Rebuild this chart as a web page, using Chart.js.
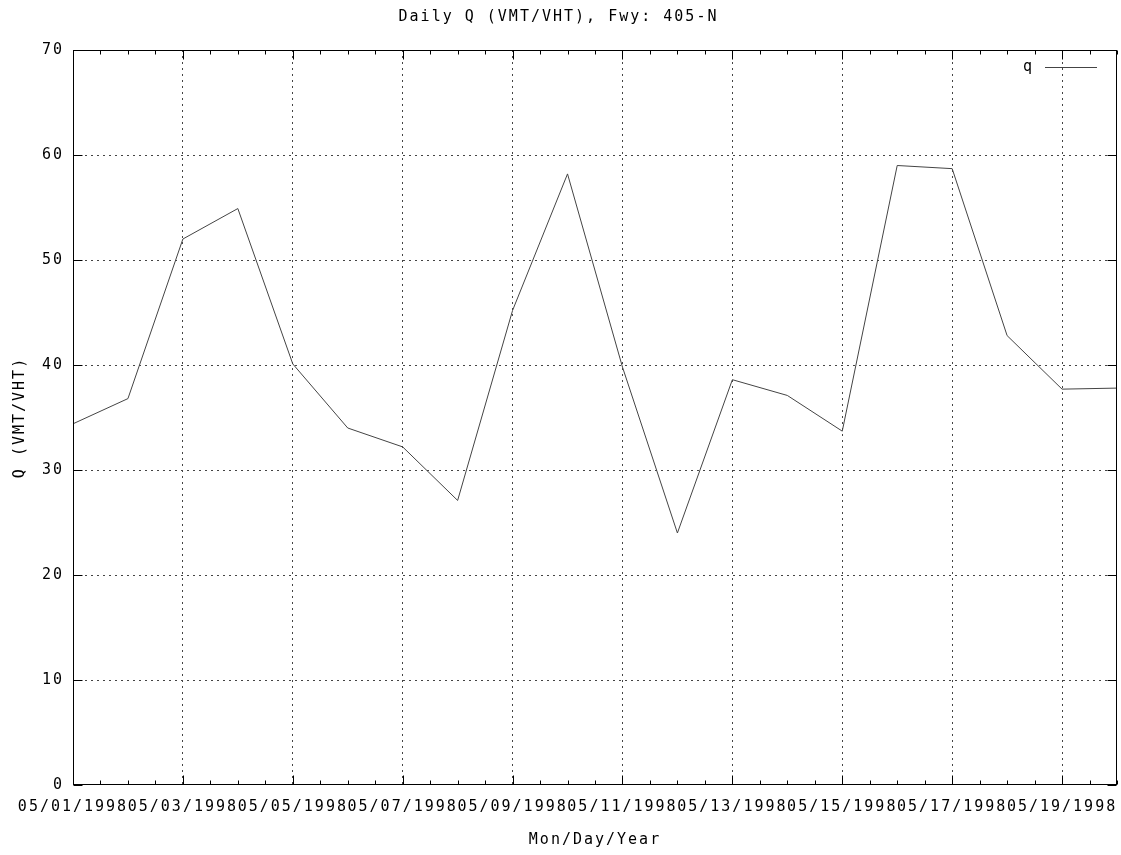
<!DOCTYPE html>
<html>
<head>
<meta charset="utf-8">
<script src="https://cdn.jsdelivr.net/npm/chart.js@4.4.1/dist/chart.umd.min.js"></script>
<style>
    html, body { margin: 0; padding: 0; background: #fff; }
    #wrap { width: 1121px; height: 855px; }
</style>
</head>
<body>
<div id="wrap"><canvas id="qChart"></canvas></div>
<script>
const dayLabels = [
    '05/01/1998', '05/02/1998', '05/03/1998', '05/04/1998', '05/05/1998',
    '05/06/1998', '05/07/1998', '05/08/1998', '05/09/1998', '05/10/1998',
    '05/11/1998', '05/12/1998', '05/13/1998', '05/14/1998', '05/15/1998',
    '05/16/1998', '05/17/1998', '05/18/1998', '05/19/1998', '05/20/1998'
];
const qValues = [
    34.4, 36.8, 52.0, 54.9, 40.1, 34.0, 32.2, 27.1, 45.2, 58.2,
    39.8, 24.0, 38.6, 37.1, 33.7, 59.0, 58.7, 42.8, 37.7, 37.8
];
const xTickLabels = [
    '05/01/1998', '05/03/1998', '05/05/1998', '05/07/1998', '05/09/1998',
    '05/11/1998', '05/13/1998', '05/15/1998', '05/17/1998', '05/19/1998'
];
const yTickValues = [0, 10, 20, 30, 40, 50, 60, 70];

const FONT = "'DejaVu Sans Mono', 'Liberation Mono', monospace";

// day number on the x axis (1 = first day)
function dayOf(label) {
    return dayLabels.indexOf(label) + 1;
}

const gnuplotLook = {
    id: 'gnuplotLook',
    beforeDraw(chart) {
        chart.ctx.letterSpacing = '2px';
    },
    afterDraw(chart) {
        const ctx = chart.ctx;
        const a = chart.chartArea;
        const xs = chart.scales.x;
        const ys = chart.scales.y;
        const L = Math.round(a.left) + 0.5, R = Math.round(a.right) - 0.5;
        const T = Math.round(a.top) + 0.5, B = Math.round(a.bottom) - 0.5;
        ctx.save();
        ctx.strokeStyle = '#000';
        ctx.lineWidth = 1;
        ctx.setLineDash([]);
        ctx.strokeRect(L, T, R - L, B - T);

        // x ticks, major on labelled days, minor every half day
        ctx.beginPath();
        for (let d = 1; d <= dayLabels.length; d += 0.5) {
            const px = Math.round(xs.getPixelForValue(d)) + 0.5;
            const major = xTickLabels.includes(dayLabels[d - 1]);
            const len = major ? 9 : 4;
            ctx.moveTo(px, B); ctx.lineTo(px, B - len);
            ctx.moveTo(px, T); ctx.lineTo(px, T + len);
        }
        yTickValues.forEach(v => {
            const py = Math.round(ys.getPixelForValue(v)) + 0.5;
            ctx.moveTo(L, py); ctx.lineTo(L + 9, py);
            ctx.moveTo(R, py); ctx.lineTo(R - 9, py);
        });
        ctx.stroke();

        // key
        const ds = chart.data.datasets[0];
        ctx.font = '15px ' + FONT;
        ctx.fillStyle = '#000';
        ctx.textAlign = 'right';
        ctx.textBaseline = 'middle';
        ctx.fillText(ds.label, a.right - 83, a.top + 17);
        ctx.strokeStyle = ds.borderColor;
        ctx.beginPath();
        ctx.moveTo(a.right - 72, a.top + 17.5);
        ctx.lineTo(a.right - 20, a.top + 17.5);
        ctx.stroke();
        ctx.restore();
    }
};

const ctx = document.getElementById('qChart').getContext('2d');
const qChart = new Chart(ctx, {
    type: 'line',
    data: {
        datasets: [{
            label: 'q',
            data: dayLabels.map((d, i) => ({ x: dayOf(d), y: qValues[i] })),
            borderColor: '#444',
            borderWidth: 1,
            pointRadius: 0,
            tension: 0,
            fill: false
        }]
    },
    options: {
        responsive: true,
        maintainAspectRatio: false,
        animation: false,
        events: [],
        layout: { padding: { left: 0, right: 4, top: 0, bottom: 0 } },
        plugins: {
            legend: { display: false },
            tooltip: { enabled: false },
            title: {
                display: true,
                text: 'Daily Q (VMT/VHT), Fwy: 405-N',
                color: '#000',
                font: { family: FONT, size: 15, weight: 'normal' },
                padding: { top: 8, bottom: 24 }
            }
        },
        scales: {
            x: {
                type: 'linear',
                min: 1,
                max: dayLabels.length,
                afterFit: s => { s.height = 70; s.paddingLeft = 0; s.paddingRight = 0; },
                ticks: {
                    stepSize: 0.5,
                    autoSkip: false,
                    maxRotation: 0,
                    color: '#000',
                    font: { family: FONT, size: 15 },
                    padding: 13,
                    callback: v => {
                        const lab = dayLabels[v - 1];
                        return xTickLabels.includes(lab) ? lab : '';
                    }
                },
                grid: {
                    drawTicks: false,
                    color: c => {
                        const lab = dayLabels[c.tick ? c.tick.value - 1 : -1];
                        return (xTickLabels.includes(lab) && c.tick.value !== 1) ? '#444' : 'rgba(0,0,0,0)';
                    }
                },
                border: { display: false, dash: [2, 4] },
                title: {
                    display: true,
                    text: 'Mon/Day/Year',
                    color: '#000',
                    font: { family: FONT, size: 15 },
                    padding: { top: 0, bottom: 6 }
                }
            },
            y: {
                min: 0,
                max: 70,
                afterFit: s => { s.width = 73; },
                afterBuildTicks: s => { s.ticks = yTickValues.map(v => ({ value: v })); },
                ticks: {
                    color: '#000',
                    font: { family: FONT, size: 15 },
                    padding: 9
                },
                grid: {
                    drawTicks: false,
                    color: c => (c.tick && c.tick.value > 0 && c.tick.value < 70) ? '#444' : 'rgba(0,0,0,0)'
                },
                border: { display: false, dash: [2, 4] },
                title: {
                    display: true,
                    text: 'Q (VMT/VHT)',
                    color: '#000',
                    font: { family: FONT, size: 15 },
                    padding: { top: 11, bottom: 0 }
                }
            }
        }
    },
    plugins: [gnuplotLook]
});
</script>
</body>
</html>
